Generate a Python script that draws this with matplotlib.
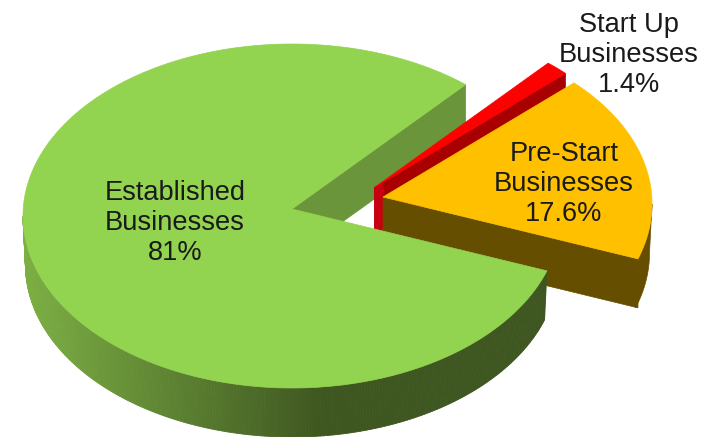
import numpy as np
import matplotlib
matplotlib.use("Agg")
import matplotlib.pyplot as plt
from matplotlib.collections import PolyCollection
from matplotlib.colors import to_rgb

# Slices, in the order they run counter-clockwise round the pie
labels = ["Established\nBusinesses\n81%", "Pre-Start\nBusinesses\n17.6%", "Start Up\nBusinesses\n1.4%"]
shares = [81.0, 17.6, 1.4]
top_colors = ["#92D350", "#FFC000", "#FF0000"]

# Pie geometry in canvas pixels
START_ANGLE = 49.8
RX, RY = 269.0, 172.0
DEPTH = 49.0
BOTTOM_SHRINK = 2.5
APEX_SHIFT = -7.0
centers = [(292.0, 216.0), (383.0, 204.0), (374.5, 194.5)]
label_pos = [(175, 223), (564, 184), (629, 55)]

fig = plt.figure(figsize=(7.16, 4.37), dpi=100)
ax = fig.add_axes([0, 0, 1, 1])
ax.set_xlim(0, 716)
ax.set_ylim(437, 0)
ax.axis("off")


def spans():
    """Start and end angle of each slice, in degrees."""
    out, a = [], START_ANGLE
    for s in shares:
        b = a + s * 3.6
        out.append((a, b))
        a = b
    return out


def rim(c, t, lower=False):
    t = np.radians(t)
    rx = RX - BOTTOM_SHRINK if lower else RX
    dy = DEPTH if lower else 0.0
    return np.column_stack([c[0] + rx * np.cos(t), c[1] - RY * np.sin(t) + dy])


def apex(c, lower=False):
    return np.array([c[0], c[1] + APEX_SHIFT + (DEPTH if lower else 0.0)])


def top_face(c, a, b):
    return np.vstack([apex(c), rim(c, np.linspace(a, b, 300))])


def edge_wall(c, a, frac=(0.0, 1.0)):
    """Flat cut face running from the apex out to the rim at angle a."""
    inner = apex(c)
    outer = rim(c, [a])[0]
    p0 = inner + (outer - inner) * frac[0]
    p1 = inner + (outer - inner) * frac[1]
    return np.array([p0, p1, p1 + [0, DEPTH], p0 + [0, DEPTH]])


def outer_wall(c, a, b):
    t = np.linspace(a, b, 200)
    return np.vstack([rim(c, t), rim(c, t[::-1], lower=True)])


(g0, g1), (y0, y1), (r0, r1) = spans()
cg, cy, cr = centers

# Cut face of the large slice, seen through the gap
ax.fill(*edge_wall(cg, g0).T, color="#6B953A", lw=0.5, zorder=1)

# Thin red slice
ax.fill(*edge_wall(cr, r0).T, color="#A80000", lw=0.5, zorder=2)
ax.fill(*edge_wall(cr, r0, (0.0, 0.045)).T, color="#C80010", lw=0.5, zorder=2.1)
ax.fill(*top_face(cr, r0, r1).T, color=top_colors[2], lw=0.5, zorder=2.2)

# Yellow slice
ax.fill(*edge_wall(cy, y0).T, color="#664E00", lw=0.5, zorder=3)
ax.fill(*outer_wall(cy, y0, 360.0).T, color="#664E00", lw=0.5, zorder=3)
ax.fill(*top_face(cy, y0, y1).T, color=top_colors[1], lw=0.5, zorder=3.2)

# Outer wall of the large slice, shaded from left to right
light = np.array(to_rgb("#7DB044"))
dark = np.array(to_rgb("#3E5620"))
edges = np.linspace(180.0, g1, 241)
quads, shades = [], []
for t0, t1 in zip(edges[:-1], edges[1:]):
    pts = np.vstack([rim(cg, [t0, t1]), rim(cg, [t1, t0], lower=True)])
    quads.append(pts)
    k = np.clip((pts[:, 0].mean() - 22.0) / 300.0, 0, 1)
    shades.append(light + (dark - light) * k)
ax.add_collection(PolyCollection(quads, facecolors=shades, edgecolors=shades, linewidths=0.6, zorder=4))
ax.fill(*top_face(cg, g0, g1).T, color=top_colors[0], lw=0.5, zorder=4.2)

# Slice captions
for text, (x, y) in zip(labels, label_pos):
    ax.text(x, y, text, ha="center", va="center", multialignment="center",
            family="Liberation Sans", fontsize=19.6, color="#1A1A1A",
            linespacing=1.2, zorder=6)

fig.savefig("out.png", dpi=100, facecolor="white")
